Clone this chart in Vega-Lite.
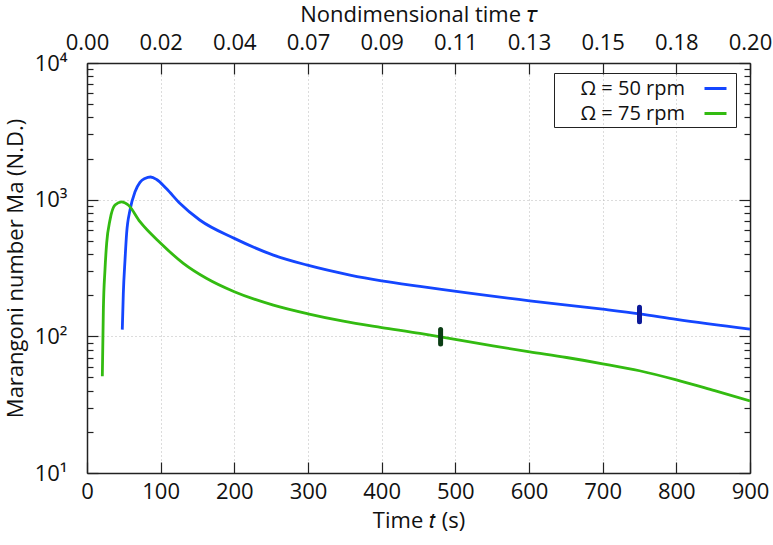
{
  "$schema": "https://vega.github.io/schema/vega-lite/v6.json",
  "width": 663,
  "height": 410,
  "autosize": {"type": "none"},
  "padding": {"left": 87, "top": 63, "right": 23, "bottom": 72},
  "background": "white",
  "config": {
    "font": "Open Sans",
    "view": {"stroke": null},
    "axis": {
      "labelFont": "Open Sans",
      "titleFont": "Open Sans",
      "labelFontSize": 22,
      "titleFontSize": 22,
      "titleFontWeight": "normal",
      "labelFlush": false,
      "labelOverlap": false,
      "labelColor": "#111",
      "titleColor": "#111",
      "domainColor": "#222",
      "domainWidth": 1.5,
      "tickColor": "#222",
      "tickWidth": 1.2,
      "gridColor": "#b8b8b8",
      "gridDash": [1, 3],
      "gridWidth": 1
    }
  },
  "datasets": {
    "curves": [
      {"series": "Ω = 50 rpm", "t": 47.9, "Ma": 112},
      {"series": "Ω = 50 rpm", "t": 49.3, "Ma": 206},
      {"series": "Ω = 50 rpm", "t": 51.6, "Ma": 362},
      {"series": "Ω = 50 rpm", "t": 53.8, "Ma": 568},
      {"series": "Ω = 50 rpm", "t": 58.4, "Ma": 840},
      {"series": "Ω = 50 rpm", "t": 65.2, "Ma": 1143},
      {"series": "Ω = 50 rpm", "t": 71.9, "Ma": 1340},
      {"series": "Ω = 50 rpm", "t": 78.7, "Ma": 1430},
      {"series": "Ω = 50 rpm", "t": 86.4, "Ma": 1465},
      {"series": "Ω = 50 rpm", "t": 94.5, "Ma": 1405},
      {"series": "Ω = 50 rpm", "t": 108, "Ma": 1200},
      {"series": "Ω = 50 rpm", "t": 126, "Ma": 940},
      {"series": "Ω = 50 rpm", "t": 153, "Ma": 710},
      {"series": "Ω = 50 rpm", "t": 200, "Ma": 521},
      {"series": "Ω = 50 rpm", "t": 253, "Ma": 393},
      {"series": "Ω = 50 rpm", "t": 298, "Ma": 333},
      {"series": "Ω = 50 rpm", "t": 357, "Ma": 281},
      {"series": "Ω = 50 rpm", "t": 400, "Ma": 255},
      {"series": "Ω = 50 rpm", "t": 452, "Ma": 232},
      {"series": "Ω = 50 rpm", "t": 601, "Ma": 182},
      {"series": "Ω = 50 rpm", "t": 700, "Ma": 158},
      {"series": "Ω = 50 rpm", "t": 750, "Ma": 146},
      {"series": "Ω = 50 rpm", "t": 800, "Ma": 133},
      {"series": "Ω = 50 rpm", "t": 900, "Ma": 113},
      {"series": "Ω = 75 rpm", "t": 20.8, "Ma": 51},
      {"series": "Ω = 75 rpm", "t": 22.2, "Ma": 156},
      {"series": "Ω = 75 rpm", "t": 24.4, "Ma": 306},
      {"series": "Ω = 75 rpm", "t": 26.7, "Ma": 480},
      {"series": "Ω = 75 rpm", "t": 31.2, "Ma": 710},
      {"series": "Ω = 75 rpm", "t": 38, "Ma": 914},
      {"series": "Ω = 75 rpm", "t": 47, "Ma": 965},
      {"series": "Ω = 75 rpm", "t": 56, "Ma": 914},
      {"series": "Ω = 75 rpm", "t": 71.9, "Ma": 690},
      {"series": "Ω = 75 rpm", "t": 100, "Ma": 480},
      {"series": "Ω = 75 rpm", "t": 130.8, "Ma": 342},
      {"series": "Ω = 75 rpm", "t": 162, "Ma": 266},
      {"series": "Ω = 75 rpm", "t": 200, "Ma": 212},
      {"series": "Ω = 75 rpm", "t": 253, "Ma": 169},
      {"series": "Ω = 75 rpm", "t": 300, "Ma": 146},
      {"series": "Ω = 75 rpm", "t": 348, "Ma": 129},
      {"series": "Ω = 75 rpm", "t": 400, "Ma": 116},
      {"series": "Ω = 75 rpm", "t": 452, "Ma": 105},
      {"series": "Ω = 75 rpm", "t": 480, "Ma": 99},
      {"series": "Ω = 75 rpm", "t": 551, "Ma": 85},
      {"series": "Ω = 75 rpm", "t": 601, "Ma": 77},
      {"series": "Ω = 75 rpm", "t": 651, "Ma": 70},
      {"series": "Ω = 75 rpm", "t": 700, "Ma": 63},
      {"series": "Ω = 75 rpm", "t": 750, "Ma": 56},
      {"series": "Ω = 75 rpm", "t": 800, "Ma": 48},
      {"series": "Ω = 75 rpm", "t": 852, "Ma": 40},
      {"series": "Ω = 75 rpm", "t": 900, "Ma": 33.7}
    ],
    "markers": [
      {"series": "Ω = 50 rpm", "t": 750, "lo": 128, "hi": 163},
      {"series": "Ω = 75 rpm", "t": 480, "lo": 88, "hi": 112}
    ]
  },
  "layer": [
    {
      "data": {"name": "curves"},
      "mark": {"type": "line", "strokeWidth": 2.8, "interpolate": "monotone", "clip": true},
      "encoding": {
        "x": {
          "field": "t", "type": "quantitative",
          "scale": {"domain": [0, 900], "nice": false, "zero": false},
          "axis": {
            "orient": "bottom",
            "title": "Time 𝑡 (s)",
            "values": [0, 100, 200, 300, 400, 500, 600, 700, 800, 900],
            "tickSize": -11,
            "labelPadding": 19,
            "titlePadding": 8,
            "grid": true
          }
        },
        "y": {
          "field": "Ma", "type": "quantitative",
          "scale": {"type": "log", "domain": [10, 10000], "nice": false},
          "axis": {
            "orient": "left",
            "title": "Marangoni number Ma (N.D.)",
            "values": [10, 20, 30, 40, 50, 60, 70, 80, 90, 100, 200, 300, 400, 500, 600, 700, 800, 900, 1000, 2000, 3000, 4000, 5000, 6000, 7000, 8000, 9000, 10000],
            "labelExpr": "datum.value == 10 ? '10¹' : datum.value == 100 ? '10²' : datum.value == 1000 ? '10³' : datum.value == 10000 ? '10⁴' : ''",
            "tickSize": {"condition": {"test": "indexof([10, 100, 1000, 10000], datum.value) >= 0", "value": -11}, "value": -6},
            "gridOpacity": {"condition": {"test": "indexof([10, 100, 1000, 10000], datum.value) >= 0", "value": 1}, "value": 0},
            "labelPadding": 31,
            "titlePadding": 7,
            "grid": true
          }
        },
        "color": {
          "field": "series", "type": "nominal",
          "scale": {"domain": ["Ω = 50 rpm", "Ω = 75 rpm"], "range": ["#1446ff", "#33bb11"]},
          "legend": {
            "title": null,
            "orient": "none",
            "legendX": 467,
            "legendY": 10,
            "strokeColor": "#222",
            "padding": 3,
            "symbolType": "stroke",
            "symbolStrokeWidth": 3,
            "symbolSize": 484,
            "symbolOffset": 146,
            "labelAlign": "right",
            "labelOffset": -43,
            "labelFontSize": 20,
            "labelFont": "Open Sans",
            "labelColor": "#111",
            "rowPadding": 2
          }
        }
      }
    },
    {
      "data": {"name": "markers"},
      "mark": {"type": "rule", "strokeWidth": 5, "strokeCap": "round"},
      "encoding": {
        "x": {
          "field": "t", "type": "quantitative",
          "scale": {"domain": [0, 900], "nice": false, "zero": false},
          "axis": {
            "orient": "top",
            "title": "Nondimensional time 𝜏",
            "values": [0, 100, 200, 300, 400, 500, 600, 700, 800, 900],
            "labelExpr": "format(datum.value * 0.000221, '.2f')",
            "tickSize": -11,
            "labelPadding": 20,
            "titlePadding": 5,
            "grid": false
          }
        },
        "y": {
          "field": "lo", "type": "quantitative",
          "scale": {"type": "log", "domain": [10, 10000], "nice": false},
          "axis": {
            "orient": "right",
            "title": null,
            "values": [10, 20, 30, 40, 50, 60, 70, 80, 90, 100, 200, 300, 400, 500, 600, 700, 800, 900, 1000, 2000, 3000, 4000, 5000, 6000, 7000, 8000, 9000, 10000],
            "labels": false,
            "tickSize": {"condition": {"test": "indexof([10, 100, 1000, 10000], datum.value) >= 0", "value": -11}, "value": -6},
            "grid": false
          }
        },
        "y2": {"field": "hi"},
        "color": {
          "field": "series", "type": "nominal",
          "scale": {"domain": ["Ω = 50 rpm", "Ω = 75 rpm"], "range": ["#0d1a99", "#0b3d14"]},
          "legend": null
        }
      }
    }
  ],
  "resolve": {"scale": {"color": "independent"}, "axis": {"x": "independent", "y": "independent"}}
}
